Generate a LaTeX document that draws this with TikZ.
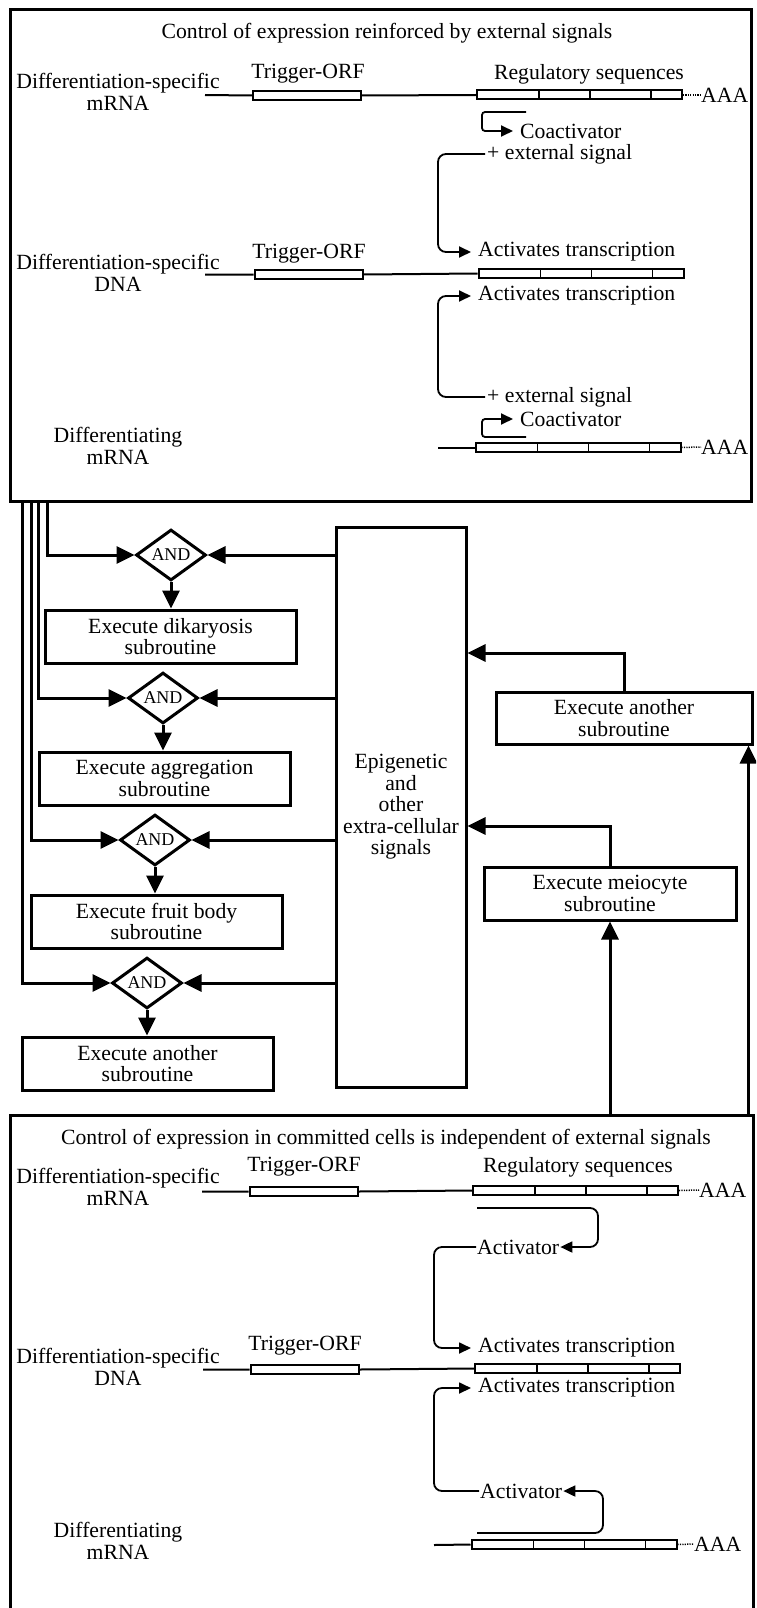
\documentclass[tikz,border=0pt]{standalone}
\usepackage{fontspec}
\setmainfont{Liberation Serif}
\usetikzlibrary{arrows.meta, shapes.geometric}

\begin{document}
\begin{tikzpicture}[x=1pt, y=-1pt]
    \tikzstyle{txt}=[font=\fontsize{21.7}{21.5}\selectfont, inner sep=2pt, align=center]
    \tikzstyle{tag}=[txt, anchor=west, inner ysep=0pt]
    \tikzstyle{frame}=[draw, line width=3pt, anchor=north west, inner sep=0pt, outer sep=0pt]
    \tikzstyle{sub}=[draw, txt, line width=3pt, minimum width=251pt, minimum height=53pt]
    \tikzstyle{gate}=[draw, diamond, line width=3pt, minimum width=70pt, minimum height=40pt, inner sep=0pt, font=\fontsize{18}{18}\selectfont]
    \tikzstyle{edge}=[draw, line width=3pt, -{Triangle[length=18pt, width=17pt]}]
    \tikzstyle{wire}=[draw, line width=2pt]
    \tikzstyle{tail}=[draw, line width=1.5pt, dash pattern=on 1.2pt off 1.2pt]
    \tikzstyle{hook}=[draw, line width=1.8pt, -{Triangle[length=12pt, width=11pt]}, rounded corners=8pt]
    \tikzstyle{orf}=[draw, line width=2pt, minimum width=108pt, minimum height=9pt, inner sep=0pt]
    \tikzstyle{reg}=[draw, line width=2pt, minimum width=205pt, minimum height=9pt, inner sep=0pt,
        path picture={\foreach \dx in {62,113,174}
            \draw[line width=1.5pt] ([xshift=\dx pt]path picture bounding box.north west) -- ([xshift=\dx pt]path picture bounding box.south west);}]

    \useasboundingbox (0,0) rectangle (756,1608);
    \fill[white] (0,0) rectangle (756,1608);
    \clip (0,0) rectangle (756,1608);

    % top panel
    \node[frame, minimum width=741pt, minimum height=491pt] (topbox) at (10,10) {};
    \node[txt] (title1) at (387,33) {Control of expression reinforced by external signals};

    \node[txt] (mrna1) at (118,92) {Differentiation-specific\\mRNA};
    \node[txt] (trig1) at (308,74) {Trigger-ORF};
    \node[txt] (regtxt1) at (589,74) {Regulatory sequences};
    \coordinate (m1) at (205,95);
    \node[orf] (orf1) at (307,95.5) {};
    \node[reg] (reg1) at (579.5,95) {};
    \node[txt, anchor=west, inner sep=0pt] (aaa1) at (701,95) {AAA};
    \path[wire] (m1) -- (orf1.west) (orf1.east) -- (reg1.west);
    \path[tail] (reg1.east) -- (aaa1.west);

    \node[tag, inner xsep=7pt] (coact1) at (513,131) {Coactivator};
    \coordinate (h1) at (526,112);
    \path[hook, rounded corners=3pt] (h1) -- ++(-44,0) |- (coact1.west);
    \node[tag] (ext1) at (485,154) {+ external signal};
    \node[tag, inner xsep=7pt] (act1) at (471,252) {Activates transcription};
    \path[hook] (ext1.west) -- ++(-47,0) |- (act1.west);

    \node[txt] (dna1) at (118,273) {Differentiation-specific\\DNA};
    \node[txt] (trig2) at (309,254) {Trigger-ORF};
    \coordinate (m2) at (205,274.5);
    \node[orf] (orf2) at (308.5,274.5) {};
    \node[reg] (reg2) at (581,273.5) {};
    \path[wire] (m2) -- (orf2.west) (orf2.east) -- (reg2.west);

    \node[tag, inner xsep=7pt] (act2) at (471,296) {Activates transcription};
    \node[tag] (ext2) at (485,397) {+ external signal};
    \path[hook] (ext2.west) -- ++(-47,0) |- (act2.west);
    \node[tag, inner xsep=7pt] (coact2) at (513,419) {Coactivator};
    \coordinate (h2) at (526,437);
    \path[hook, rounded corners=3pt] (h2) -- ++(-44,0) |- (coact2.west);

    \node[txt] (diff1) at (118,446) {Differentiating\\mRNA};
    \coordinate (m3) at (438,447.5);
    \node[reg] (reg3) at (578,447.5) {};
    \node[txt, anchor=west, inner sep=0pt] (aaa2) at (701,447) {AAA};
    \path[wire] (m3) -- (reg3.west);
    \path[tail] (reg3.east) -- (aaa2.west);

    % middle: gates and subroutines
    \node[draw, txt, line width=3pt, minimum width=130pt, minimum height=560pt] (epi) at (401,807) {Epigenetic\\and\\other\\extra-cellular\\signals};

    \node[gate] (and1) at (171,555) {AND};
    \node[gate] (and2) at (163,698) {AND};
    \node[gate] (and3) at (155,840) {AND};
    \node[gate] (and4) at (147,983) {AND};

    \node[sub] (dik) at (170.5,636.5) {Execute dikaryosis\\subroutine};
    \node[sub] (agg) at (164.5,778.5) {Execute aggregation\\subroutine};
    \node[sub] (fruit) at (156.5,921.5) {Execute fruit body\\subroutine};
    \node[sub] (oth1) at (147.5,1063.5) {Execute another\\subroutine};
    \node[sub, minimum width=256pt, minimum height=52pt] (oth2) at (624,718) {Execute another\\subroutine};
    \node[sub, minimum width=252pt] (meio) at (610,893.5) {Execute meiocyte\\subroutine};

    \path[edge] ([xshift=37pt]topbox.south west) |- (and1.west);
    \path[edge] ([xshift=28pt]topbox.south west) |- (and2.west);
    \path[edge] ([xshift=21pt]topbox.south west) |- (and3.west);
    \path[edge] ([xshift=12pt]topbox.south west) |- (and4.west);

    \path[edge] (epi.west |- and1) -- (and1.east);
    \path[edge] (epi.west |- and2) -- (and2.east);
    \path[edge] (epi.west |- and3) -- (and3.east);
    \path[edge] (epi.west |- and4) -- (and4.east);

    \path[edge] (and1.south) -- (and1.south |- dik.north);
    \path[edge] (and2.south) -- (and2.south |- agg.north);
    \path[edge] (and3.south) -- (and3.south |- fruit.north);
    \path[edge] (and4.south) -- (and4.south |- oth1.north);

    \path[edge] (oth2.north) |- ([yshift=154pt]epi.east);
    \path[edge] (meio.north) |- ([yshift=-19pt]epi.east);

    % bottom panel
    \node[frame, minimum width=743pt, minimum height=500pt] (botbox) at (10,1115) {};
    \coordinate (up2) at ([xshift=-5pt]oth2.south east);
    \path[edge] (meio.south |- botbox.north) -- (meio.south);
    \path[edge] (up2 |- botbox.north) -- (up2);

    \node[txt] (title2) at (386,1139) {Control of expression in committed cells is independent of external signals};

    \node[txt] (mrna2) at (118,1187) {Differentiation-specific\\mRNA};
    \node[txt] (trig3) at (304,1167) {Trigger-ORF};
    \node[txt] (regtxt2) at (578,1167) {Regulatory sequences};
    \coordinate (m4) at (202,1191.5);
    \node[orf] (orf3) at (303.5,1191.5) {};
    \node[reg] (reg4) at (575.5,1190.5) {};
    \node[txt, anchor=west, inner sep=0pt] (aaa3) at (699,1190) {AAA};
    \path[wire] (m4) -- (orf3.west) (orf3.east) -- (reg4.west);
    \path[tail] (reg4.east) -- (aaa3.west);

    \node[tag, inner xsep=1pt] (actv1) at (476,1247) {Activator};
    \coordinate (h3) at (477,1208);
    \path[hook] (h3) -- ++(121,0) |- (actv1.east);
    \node[tag, inner xsep=7pt] (actb1) at (471,1348) {Activates transcription};
    \path[hook] (actv1.west) -- ++(-42,0) |- (actb1.west);

    \node[txt] (dna2) at (118,1367) {Differentiation-specific\\DNA};
    \node[txt] (trig4) at (305,1346) {Trigger-ORF};
    \coordinate (m5) at (203,1369.5);
    \node[orf] (orf4) at (304.5,1369.5) {};
    \node[reg] (reg5) at (577.5,1368.5) {};
    \path[wire] (m5) -- (orf4.west) (orf4.east) -- (reg5.west);

    \node[tag, inner xsep=7pt] (actb2) at (471,1388) {Activates transcription};
    \node[tag, inner xsep=1pt] (actv2) at (479,1491) {Activator};
    \path[hook] (actv2.west) -- ++(-45,0) |- (actb2.west);
    \coordinate (h4) at (477,1533);
    \path[hook] (h4) -- ++(126,0) |- (actv2.east);

    \node[txt] (diff2) at (118,1541) {Differentiating\\mRNA};
    \coordinate (m6) at (434,1545);
    \node[reg] (reg6) at (574,1544.5) {};
    \node[txt, anchor=west, inner sep=0pt] (aaa4) at (694,1544) {AAA};
    \path[wire] (m6) -- (reg6.west);
    \path[tail] (reg6.east) -- (aaa4.west);
\end{tikzpicture}
\end{document}
